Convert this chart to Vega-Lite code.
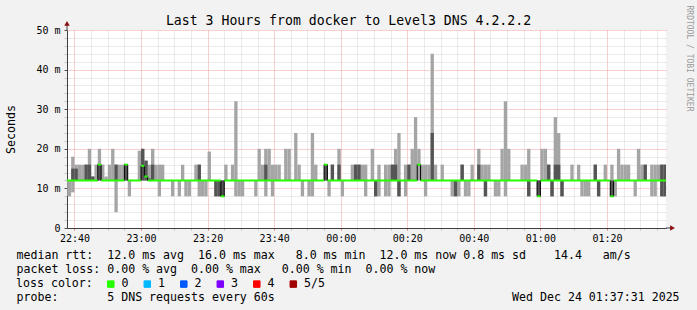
{
 "$schema": "https://vega.github.io/schema/vega-lite/v6.json",
 "width": 599, "height": 198,
 "autosize": {"type": "none"},
 "padding": {"left": 67, "top": 30, "right": 31, "bottom": 82},
 "background": "#f2f2f2",
 "title": {"text": "Last 3 Hours from docker to Level3 DNS 4.2.2.2", "font": "DejaVu Sans Mono", "fontSize": 13.2, "fontWeight": "normal", "color": "#000000", "anchor": "middle", "frame": "group", "dx": -18, "dy": 37, "offset": 4, "baseline": "alphabetic"},
 "datasets": {
  "smoke": [
   {"t":37,"t1":38,"lo":8,"hi":12},{"t":38,"t1":39,"lo":8,"hi":12},{"t":39,"t1":40,"lo":9,"hi":18,"dlo":12,"dhi":15},{"t":40,"t1":41,"lo":12,"hi":16,"dlo":12,"dhi":15},
   {"t":41,"t1":42,"lo":12,"hi":16},{"t":42,"t1":43,"lo":12,"hi":16},{"t":43,"t1":44,"lo":12,"hi":16,"dlo":12,"dhi":16},{"t":44,"t1":45,"lo":12,"hi":20,"dlo":12,"dhi":16},
   {"t":45,"t1":46,"lo":12,"hi":13,"dlo":12,"dhi":13},{"t":46,"t1":47,"lo":12,"hi":16},{"t":47,"t1":48,"lo":12,"hi":20,"dlo":12,"dhi":16},{"t":48,"t1":49,"lo":12,"hi":16},
   {"t":49,"t1":50,"lo":12,"hi":13},{"t":50,"t1":51,"lo":12,"hi":16},{"t":51,"t1":52,"lo":12,"hi":20},{"t":52,"t1":53,"lo":4,"hi":16,"dlo":12,"dhi":16},
   {"t":53,"t1":54,"lo":12,"hi":16},{"t":54,"t1":55,"lo":12,"hi":16},{"t":55,"t1":56,"lo":12,"hi":16,"dlo":12,"dhi":16},{"t":56,"t1":57,"lo":8,"hi":12},
   {"t":59,"t1":60,"lo":12,"hi":19.5},{"t":60,"t1":61,"lo":12,"hi":20,"dlo":12,"dhi":20},{"t":61,"t1":62,"lo":12,"hi":17,"dlo":12,"dhi":17},{"t":62,"t1":63,"lo":12,"hi":16,"dlo":12,"dhi":12.5},
   {"t":63,"t1":64,"lo":12,"hi":20,"dlo":12,"dhi":16},{"t":64,"t1":65,"lo":12,"hi":16},{"t":65,"t1":66,"lo":8,"hi":16},{"t":66,"t1":67,"lo":12,"hi":16},
   {"t":69,"t1":70,"lo":8,"hi":12},{"t":71,"t1":72,"lo":8,"hi":12},{"t":72,"t1":73,"lo":12,"hi":16},{"t":73,"t1":74,"lo":8,"hi":12},{"t":74,"t1":75,"lo":8,"hi":12},
   {"t":76,"t1":77,"lo":12,"hi":16},{"t":77,"t1":78,"lo":8,"hi":16,"dlo":12,"dhi":16},{"t":78,"t1":79,"lo":8,"hi":12},{"t":79,"t1":80,"lo":8,"hi":12},{"t":80,"t1":81,"lo":12,"hi":19.3},
   {"t":82,"t1":83,"lo":8,"hi":12,"dlo":8,"dhi":12},{"t":83,"t1":84,"lo":8,"hi":12,"dlo":8,"dhi":12},{"t":84,"t1":85,"lo":8,"hi":12,"dlo":8,"dhi":12},{"t":85,"t1":86,"lo":12,"hi":16},
   {"t":87,"t1":88,"lo":12,"hi":16},{"t":88,"t1":89,"lo":8,"hi":32},{"t":89,"t1":90,"lo":8,"hi":12},{"t":90,"t1":91,"lo":8,"hi":12},
   {"t":94,"t1":95,"lo":8,"hi":12},{"t":95,"t1":96,"lo":12,"hi":20},{"t":96,"t1":97,"lo":12,"hi":16},{"t":97,"t1":98,"lo":8,"hi":20,"dlo":12,"dhi":16},{"t":98,"t1":99,"lo":12,"hi":20},
   {"t":99,"t1":100,"lo":8,"hi":16},{"t":100,"t1":101,"lo":12,"hi":16},{"t":101,"t1":102,"lo":12,"hi":16},{"t":103,"t1":104,"lo":12,"hi":20},{"t":104,"t1":105,"lo":12,"hi":20},
   {"t":106,"t1":107,"lo":12,"hi":24},{"t":107,"t1":108,"lo":12,"hi":16},{"t":108,"t1":109,"lo":8,"hi":12},{"t":110,"t1":111,"lo":8,"hi":12},{"t":111,"t1":112,"lo":8,"hi":24},
   {"t":112,"t1":113,"lo":12,"hi":16},{"t":115,"t1":116,"lo":12,"hi":16,"dlo":12,"dhi":16},{"t":116,"t1":117,"lo":8,"hi":12},{"t":117,"t1":118,"lo":12,"hi":16,"dlo":12,"dhi":16},
   {"t":119,"t1":120,"lo":12,"hi":20,"dlo":12,"dhi":16},{"t":120,"t1":121,"lo":8,"hi":12},{"t":123,"t1":124,"lo":12,"hi":16},{"t":124,"t1":125,"lo":12,"hi":16,"dlo":12,"dhi":16},
   {"t":125,"t1":126,"lo":12,"hi":16,"dlo":12,"dhi":16},{"t":126,"t1":127,"lo":12,"hi":16},{"t":127,"t1":128,"lo":8,"hi":16},{"t":129,"t1":130,"lo":12,"hi":20},
   {"t":130,"t1":131,"lo":8,"hi":12,"dlo":8,"dhi":12},{"t":131,"t1":132,"lo":8,"hi":16},{"t":133,"t1":134,"lo":8,"hi":16},{"t":134,"t1":135,"lo":8,"hi":16},
   {"t":135,"t1":136,"lo":12,"hi":16,"dlo":12,"dhi":16},{"t":136,"t1":137,"lo":12,"hi":20,"dlo":12,"dhi":16},{"t":137,"t1":138,"lo":8,"hi":24,"dlo":8,"dhi":12},
   {"t":139,"t1":140,"lo":8,"hi":16},{"t":140,"t1":141,"lo":12,"hi":16,"dlo":12,"dhi":16},{"t":141,"t1":142,"lo":12,"hi":20},{"t":142,"t1":143,"lo":12,"hi":28},
   {"t":143,"t1":144,"lo":12,"hi":20},{"t":144,"t1":145,"lo":12,"hi":16},{"t":145,"t1":146,"lo":8,"hi":16},{"t":146,"t1":147,"lo":12,"hi":16},
   {"t":147,"t1":148,"lo":12,"hi":44,"dlo":12,"dhi":24},{"t":148,"t1":149,"lo":12,"hi":16},{"t":150,"t1":151,"lo":12,"hi":16},{"t":153,"t1":154,"lo":8,"hi":12},
   {"t":154,"t1":155,"lo":8,"hi":12,"dlo":8,"dhi":12},{"t":155,"t1":156,"lo":8,"hi":12},{"t":156,"t1":157,"lo":12,"hi":16,"dlo":12,"dhi":16},{"t":157,"t1":158,"lo":8,"hi":12},
   {"t":158,"t1":159,"lo":8,"hi":12},{"t":159,"t1":160,"lo":12,"hi":16},{"t":161,"t1":162,"lo":12,"hi":20,"dlo":12,"dhi":16},{"t":162,"t1":163,"lo":12,"hi":16},
   {"t":163,"t1":164,"lo":8,"hi":16,"dlo":8,"dhi":12},{"t":164,"t1":165,"lo":12,"hi":16},{"t":166,"t1":167,"lo":8,"hi":12},{"t":167,"t1":168,"lo":8,"hi":12},
   {"t":168,"t1":169,"lo":12,"hi":20},{"t":169,"t1":170,"lo":8,"hi":32},{"t":170,"t1":171,"lo":12,"hi":20},{"t":174,"t1":175,"lo":12,"hi":16},{"t":175,"t1":176,"lo":12,"hi":16},
   {"t":176,"t1":177,"lo":8,"hi":20,"dlo":8,"dhi":12},{"t":179,"t1":180,"lo":8,"hi":12,"dlo":8,"dhi":12},{"t":180,"t1":181,"lo":12,"hi":20},{"t":181,"t1":182,"lo":12,"hi":20},
   {"t":182,"t1":183,"lo":12,"hi":16,"dlo":12,"dhi":16},{"t":183,"t1":184,"lo":8,"hi":12,"dlo":8,"dhi":12},{"t":184,"t1":185,"lo":12,"hi":28,"dlo":12,"dhi":16},
   {"t":185,"t1":186,"lo":12,"hi":24,"dlo":12,"dhi":16},{"t":186,"t1":187,"lo":8,"hi":12,"dlo":8,"dhi":12},{"t":189,"t1":190,"lo":12,"hi":16},{"t":191,"t1":192,"lo":12,"hi":16},
   {"t":192,"t1":193,"lo":8,"hi":12},{"t":193,"t1":194,"lo":8,"hi":12},{"t":194,"t1":195,"lo":8,"hi":12},{"t":196,"t1":197,"lo":12,"hi":16,"dlo":12,"dhi":16},
   {"t":197,"t1":198,"lo":8,"hi":12,"dlo":8,"dhi":12},{"t":199,"t1":200,"lo":12,"hi":16},{"t":201,"t1":202,"lo":8,"hi":16,"dlo":8,"dhi":12},{"t":202,"t1":203,"lo":8,"hi":12},
   {"t":203,"t1":204,"lo":12,"hi":20},{"t":204,"t1":205,"lo":12,"hi":16},{"t":205,"t1":206,"lo":12,"hi":16},{"t":206,"t1":207,"lo":12,"hi":16},{"t":208,"t1":209,"lo":8,"hi":12},
   {"t":209,"t1":210,"lo":12,"hi":20},{"t":210,"t1":211,"lo":12,"hi":16},{"t":211,"t1":212,"lo":12,"hi":16,"dlo":12,"dhi":16},{"t":213,"t1":214,"lo":8,"hi":16},
   {"t":214,"t1":215,"lo":8,"hi":16},{"t":215,"t1":216,"lo":12,"hi":16},{"t":216,"t1":217,"lo":8,"hi":16,"dlo":8,"dhi":16},{"t":217,"t1":218,"lo":8,"hi":16,"dlo":8,"dhi":16}
  ],
  "median": [
   {"t":37,"t1":47,"m":12,"l":"0"},{"t":47,"t1":48,"m":16,"l":"0"},{"t":48,"t1":55,"m":12,"l":"0"},{"t":55,"t1":56,"m":16,"l":"0"},
   {"t":56,"t1":60,"m":12,"l":"0"},{"t":60,"t1":61,"m":15.7,"l":"0"},{"t":61,"t1":62,"m":13,"l":"0"},{"t":62,"t1":84,"m":12,"l":"0"},
   {"t":84,"t1":85,"m":8,"l":"0"},{"t":85,"t1":115,"m":12,"l":"0"},{"t":115,"t1":116,"m":16,"l":"0"},{"t":116,"t1":143,"m":12,"l":"0"},
   {"t":143,"t1":144,"m":16,"l":"0"},{"t":144,"t1":179,"m":12,"l":"0"},{"t":179,"t1":180,"m":8,"l":"0"},{"t":180,"t1":201,"m":12,"l":"0"},
   {"t":201,"t1":202,"m":8,"l":"0"},{"t":202,"t1":218,"m":12,"l":"0"}
  ]
 },
 "layer": [
  {
   "data": {"name": "smoke"},
   "mark": {"type": "rect", "color": "#a5a5a5", "clip": true},
   "encoding": {
    "x": {"field": "t", "type": "quantitative", "scale": {"domain": [37.75, 217.75], "nice": false, "zero": false},
     "axis": {"orient": "bottom", "values": [40,45,50,55,60,65,70,75,80,85,90,95,100,105,110,115,120,125,130,135,140,145,150,155,160,165,170,175,180,185,190,195,200,205,210,215],
      "labelExpr": "datum.value % 20 === 0 ? timeFormat(datetime(2025, 11, 23, 22, datum.value), '%H:%M') : ''",
      "grid": true, "gridDash": [1, 1],
      "gridColor": {"condition": {"test": "datum.value % 20 === 0", "value": "#f0a0a0"}, "value": "#d6d6d6"},
      "tickColor": {"condition": {"test": "datum.value % 20 === 0", "value": "#e07070"}, "value": "#c8c8c8"},
      "tickSize": 2, "labelPadding": 3, "labelFontSize": 10, "labelColor": "#000000", "labelFont": "DejaVu Sans Mono",
      "domainColor": "#404040", "zindex": 0, "labelOverlap": false,
      "title": ["median rtt:\u00a0\u00a012.0 ms avg\u00a0\u00a016.0 ms max\u00a0\u00a0\u00a08.0 ms min\u00a0\u00a012.0 ms now\u00a00.8 ms sd\u00a0\u00a0\u00a0\u00a014.4\u00a0\u00a0\u00a0am/s",
                "packet loss:\u00a00.00 % avg\u00a0\u00a00.00 % max\u00a0\u00a0\u00a00.00 % min\u00a0\u00a00.00 % now",
                "\u200b",
                "probe:\u00a0\u00a0\u00a0\u00a0\u00a0\u00a0\u00a05 DNS requests every 60s\u00a0\u00a0\u00a0\u00a0\u00a0\u00a0\u00a0\u00a0\u00a0\u00a0\u00a0\u00a0\u00a0\u00a0\u00a0\u00a0\u00a0\u00a0\u00a0\u00a0\u00a0\u00a0\u00a0\u00a0\u00a0\u00a0\u00a0\u00a0\u00a0\u00a0\u00a0\u00a0\u00a0\u00a0Wed Dec 24 01:37:31 2025"],
      "titleFont": "DejaVu Sans Mono", "titleFontSize": 11.6, "titleFontWeight": "normal", "titleColor": "#000000",
      "titleLineHeight": 14, "titleAlign": "left", "titleAnchor": "start", "titleBaseline": "alphabetic", "titleAngle": 0, "titleX": -51, "titleY": 30}},
    "x2": {"field": "t1"},
    "y": {"field": "lo", "type": "quantitative", "scale": {"domain": [0, 50], "nice": false, "zero": false},
     "axis": {"orient": "left", "values": [0,2,4,6,8,10,12,14,16,18,20,22,24,26,28,30,32,34,36,38,40,42,44,46,48,50],
      "labelExpr": "datum.value % 10 === 0 ? (datum.value === 0 ? '0' : datum.value + ' m') : ''",
      "grid": true, "gridDash": [1, 1],
      "gridColor": {"condition": {"test": "datum.value % 10 === 0", "value": "#f0a0a0"}, "value": "#d6d6d6"},
      "tickColor": {"condition": {"test": "datum.value % 10 === 0", "value": "#505050"}, "value": "#c8c8c8"},
      "tickSize": 3, "labelPadding": 4, "labelFontSize": 10, "labelColor": "#000000", "labelFont": "DejaVu Sans Mono",
      "domainColor": "#404040", "zindex": 0, "labelOverlap": false,
      "title": "Seconds", "titleFont": "DejaVu Sans Mono", "titleFontSize": 11.6, "titleFontWeight": "normal", "titleColor": "#000000", "titleX": -51}},
    "y2": {"field": "hi"}
   }
  },
  {
   "data": {"name": "smoke"},
   "mark": {"type": "rect", "color": "#555555", "clip": true},
   "encoding": {
    "x": {"field": "t", "type": "quantitative", "scale": {"domain": [37.75, 217.75], "nice": false, "zero": false}, "axis": null},
    "x2": {"field": "t1"},
    "y": {"field": "dlo", "type": "quantitative", "scale": {"domain": [0, 50], "nice": false, "zero": false}, "axis": null},
    "y2": {"field": "dhi"}
   }
  },
  {
   "data": {"name": "median"},
   "mark": {"type": "line", "interpolate": "step-after", "color": "#000000", "strokeWidth": 1, "clip": true},
   "encoding": {
    "x": {"field": "t", "type": "quantitative", "scale": {"domain": [37.75, 217.75], "nice": false, "zero": false}, "axis": null},
    "y": {"field": "m", "type": "quantitative", "scale": {"domain": [0, 50], "nice": false, "zero": false},
     "axis": {"orient": "right", "labels": false, "ticks": false, "domain": false, "grid": false,
      "title": "RRDTOOL / TOBI OETIKER", "titleAngle": 90, "titleFont": "DejaVu Sans Mono", "titleFontSize": 8, "titleFontWeight": "normal",
      "titleColor": "#9a9a9a", "titleX": 22, "titleY": -25, "titleAlign": "left", "titleBaseline": "middle"}}
   }
  },
  {
   "data": {"name": "median"},
   "mark": {"type": "rule", "strokeWidth": 2, "clip": true},
   "encoding": {
    "x": {"field": "t", "type": "quantitative", "scale": {"domain": [37.75, 217.75], "nice": false, "zero": false}, "axis": null},
    "x2": {"field": "t1"},
    "y": {"field": "m", "type": "quantitative", "scale": {"domain": [0, 50], "nice": false, "zero": false}, "axis": null},
    "color": {"field": "l", "type": "nominal",
     "scale": {"domain": ["0", "1", "2", "3", "4", "5/5"], "range": ["#26ff00", "#00b8ff", "#0059ff", "#7e00ff", "#ff0000", "#a10000"]},
     "legend": {"orient": "none", "legendX": -51, "legendY": 248, "direction": "horizontal",
      "title": "loss color:", "titleOrient": "left", "titleFont": "DejaVu Sans Mono", "titleFontSize": 11.6, "titleFontWeight": "normal", "titleColor": "#000000", "titlePadding": 12,
      "labelFont": "DejaVu Sans Mono", "labelFontSize": 11.6, "labelColor": "#000000", "labelOffset": 5,
      "symbolType": "square", "symbolSize": 42, "symbolStrokeColor": "#000000", "symbolStrokeWidth": 1, "columnPadding": 12.5, "padding": 0,
      "encode": {"symbols": {"update": {"fill": {"scale": "color", "field": "value"}, "fillOpacity": {"value": 1}, "stroke": {"value": "#000000"}, "strokeWidth": {"value": 1}}}}}}
   }
  },
  {
   "data": {"values": [{}]},
   "mark": {"type": "rule", "color": "#404040", "clip": false},
   "encoding": {
    "x": {"datum": 217.75, "type": "quantitative", "scale": {"domain": [37.75, 217.75], "nice": false, "zero": false}, "axis": null},
    "x2": {"datum": 219.6},
    "y": {"datum": 0, "type": "quantitative", "scale": {"domain": [0, 50], "nice": false, "zero": false}, "axis": null}
   }
  },
  {
   "data": {"values": [{}]},
   "mark": {"type": "rule", "color": "#404040", "clip": false},
   "encoding": {
    "x": {"datum": 37.75, "type": "quantitative", "scale": {"domain": [37.75, 217.75], "nice": false, "zero": false}, "axis": null},
    "y": {"datum": 50, "type": "quantitative", "scale": {"domain": [0, 50], "nice": false, "zero": false}, "axis": null},
    "y2": {"datum": 51.8}
   }
  },
  {
   "data": {"values": [{}]},
   "mark": {"type": "point", "shape": "triangle-right", "filled": true, "color": "#8b1010", "size": 30, "opacity": 1, "clip": false},
   "encoding": {
    "x": {"datum": 219.7, "type": "quantitative", "scale": {"domain": [37.75, 217.75], "nice": false, "zero": false}, "axis": null},
    "y": {"datum": 0, "type": "quantitative", "scale": {"domain": [0, 50], "nice": false, "zero": false}, "axis": null}
   }
  },
  {
   "data": {"values": [{}]},
   "mark": {"type": "point", "shape": "triangle-up", "filled": true, "color": "#8b1010", "size": 30, "opacity": 1, "clip": false},
   "encoding": {
    "x": {"datum": 37.75, "type": "quantitative", "scale": {"domain": [37.75, 217.75], "nice": false, "zero": false}, "axis": null},
    "y": {"datum": 51.7, "type": "quantitative", "scale": {"domain": [0, 50], "nice": false, "zero": false}, "axis": null}
   }
  }
 ],
 "resolve": {"axis": {"x": "independent", "y": "independent"}},
 "config": {
  "font": "DejaVu Sans Mono",
  "view": {"fill": "#ffffff", "stroke": null}
 }
}
